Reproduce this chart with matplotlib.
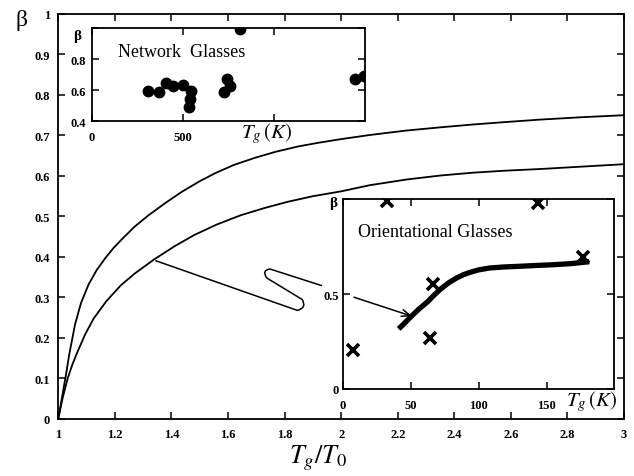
import matplotlib
matplotlib.use('Agg')
import matplotlib.pyplot as plt
from matplotlib.path import Path
from matplotlib.patches import PathPatch

plt.rcParams['font.family'] = ['Liberation Serif', 'DejaVu Serif']
plt.rcParams['mathtext.fontset'] = 'stix'

# main curves: beta vs Tg/T0
x_up = [1.0, 1.015, 1.028, 1.039, 1.059, 1.08, 1.107, 1.135, 1.166, 1.195, 1.225,
        1.27, 1.319, 1.38, 1.437, 1.5, 1.555, 1.62, 1.696, 1.77, 1.849, 1.92,
        2.0, 2.1, 2.229, 2.35, 2.465, 2.58, 2.701, 2.85, 3.0]
b_up = [0.0, 0.06, 0.112, 0.16, 0.232, 0.285, 0.331, 0.366, 0.396, 0.421, 0.443,
        0.474, 0.502, 0.533, 0.560, 0.586, 0.606, 0.626, 0.644, 0.659, 0.672, 0.681,
        0.690, 0.700, 0.711, 0.719, 0.726, 0.732, 0.738, 0.744, 0.749]
x_lo = [1.0, 1.015, 1.033, 1.05, 1.068, 1.095, 1.125, 1.17, 1.221, 1.27, 1.339,
        1.41, 1.480, 1.56, 1.645, 1.73, 1.810, 1.9, 2.0, 2.1, 2.229, 2.35, 2.465,
        2.58, 2.701, 2.85, 3.0]
b_lo = [0.0, 0.05, 0.099, 0.134, 0.165, 0.208, 0.247, 0.29, 0.329, 0.358, 0.393,
        0.425, 0.453, 0.479, 0.502, 0.52, 0.535, 0.549, 0.561, 0.576, 0.590, 0.600,
        0.607, 0.612, 0.616, 0.622, 0.628]

# network glasses (Tg in K, beta)
net_tg = [307, 367, 409, 446, 501, 545, 537, 532, 724, 743, 757, 816, 1448, 1494]
net_b = [0.595, 0.589, 0.645, 0.628, 0.632, 0.595, 0.542, 0.488, 0.585, 0.671,
         0.624, 0.995, 0.671, 0.692]

# orientational glasses
ori_tg = [7.8, 64.4, 66.8, 176.6, 32.7, 143.7]
ori_b = [0.207, 0.268, 0.553, 0.693, 0.99, 0.98]
ori_fit_tg = [41.2, 46, 51, 56, 62, 67, 71.7, 78, 84, 89, 93.7, 100, 108.3, 118,
              130.3, 142, 154.7, 168, 181.5]
ori_fit_b = [0.316, 0.35, 0.386, 0.42, 0.456, 0.492, 0.524, 0.559, 0.585, 0.602,
             0.614, 0.627, 0.637, 0.642, 0.646, 0.650, 0.654, 0.660, 0.67]

fig = plt.figure(figsize=(6.34, 4.77), dpi=100)
ax = fig.add_axes([0.092, 0.1205, 0.8923, 0.849])
ax.plot(x_up, b_up, color='black', lw=1.3)
ax.plot(x_lo, b_lo, color='black', lw=1.3)
ax.set_xlim(1, 3)
ax.set_ylim(0, 1)
xt = [1.0, 1.2, 1.4, 1.6, 1.8, 2.0, 2.2, 2.4, 2.6, 2.8, 3.0]
ax.set_xticks(xt)
ax.set_xticklabels(['1', '1.2', '1.4', '1.6', '1.8', '2', '2.2', '2.4', '2.6', '2.8', '3'])
yt = [0, 0.1, 0.2, 0.3, 0.4, 0.5, 0.6, 0.7, 0.8, 0.9, 1.0]
ax.set_yticks(yt)
ax.set_yticklabels(['0', '0.1', '0.2', '0.3', '0.4', '0.5', '0.6', '0.7', '0.8', '0.9', '1'])
ax.tick_params(direction='in', top=True, right=True, length=5, width=1.1, labelsize=9)
ax.tick_params(axis='x', pad=7)
ax.tick_params(axis='y', pad=6)
for lab in ax.get_xticklabels() + ax.get_yticklabels():
    lab.set_fontweight('bold')
for s in ax.spines.values():
    s.set_linewidth(1.3)
fig.text(0.034, 0.956, 'β', fontsize=17, ha='center', va='center')
fig.text(0.502, 0.04, r'$T_g/T_0$', fontsize=19, ha='center', va='center')

# connector with the break loop
verts = [(1.343, 0.390), (1.845, 0.267), (1.880, 0.273), (1.862, 0.294),
         (1.737, 0.347), (1.717, 0.367), (1.749, 0.369), (1.932, 0.328)]
codes = [Path.MOVETO, Path.LINETO, Path.CURVE3, Path.CURVE3,
         Path.LINETO, Path.CURVE3, Path.CURVE3, Path.LINETO]
ax.add_patch(PathPatch(Path(verts, codes), fill=False, lw=1.1, color='black',
                       joinstyle='round', clip_on=False, zorder=5))

# network glasses inset
a1 = fig.add_axes([0.1446, 0.7442, 0.431, 0.1943])
a1.plot(net_tg, net_b, 'o', color='black', ms=7.5)
a1.set_xlim(0, 1500)
a1.set_ylim(0.4, 1.0)
a1.set_xticks([0, 500, 1000])
a1.set_xticklabels(['0', '500', ''])
a1.set_yticks([0.4, 0.6, 0.8, 1.0])
a1.set_yticklabels(['0.4', '0.6', '0.8', ''])
a1.tick_params(direction='in', top=True, right=True, length=5, width=1.1, labelsize=9)
a1.tick_params(axis='x', pad=7)
a1.tick_params(axis='y', pad=4)
for lab in a1.get_xticklabels() + a1.get_yticklabels():
    lab.set_fontweight('bold')
for s in a1.spines.values():
    s.set_linewidth(1.3)
a1.text(0.096, 0.70, 'Network  Glasses', transform=a1.transAxes, fontsize=13)
a1.text(0.64, -0.18, r'$T_g\,(K)$', transform=a1.transAxes, fontsize=15, ha='center')
a1.text(-0.052, 0.928, 'β', transform=a1.transAxes, fontsize=11, fontweight='bold',
        ha='center', va='center')

# orientational glasses inset
a2 = fig.add_axes([0.5405, 0.1824, 0.4287, 0.3983])
a2.plot(ori_tg, ori_b, 'x', color='black', ms=9, mew=2.6)
a2.plot(ori_fit_tg, ori_fit_b, color='black', lw=3.8, solid_capstyle='butt',
        solid_joinstyle='round')
a2.set_xlim(0, 200)
a2.set_ylim(0, 1)
a2.set_xticks([0, 50, 100, 150])
a2.set_xticklabels(['0', '50', '100', '150'])
a2.set_yticks([0, 0.5, 1.0])
a2.set_yticklabels(['0', '0.5', ''])
a2.tick_params(direction='in', top=True, right=True, length=5, width=1.1, labelsize=9)
a2.tick_params(axis='x', pad=7)
a2.tick_params(axis='y', pad=3)
for lab in a2.get_xticklabels() + a2.get_yticklabels():
    lab.set_fontweight('bold')
for s in a2.spines.values():
    s.set_linewidth(1.3)
a2.text(0.056, 0.807, 'Orientational Glasses', transform=a2.transAxes, fontsize=13)
a2.text(0.917, -0.084, r'$T_g\,(K)$', transform=a2.transAxes, fontsize=15, ha='center')
a2.text(-0.036, 0.979, 'β', transform=a2.transAxes, fontsize=11, fontweight='bold',
        ha='center', va='center')
a2.annotate('', xy=(51, 0.383), xytext=(8.3, 0.483),
            arrowprops=dict(arrowstyle='->,head_length=0.6,head_width=0.25',
                            lw=1.1, color='black', shrinkA=0, shrinkB=0))

fig.savefig('out.png', dpi=100)
